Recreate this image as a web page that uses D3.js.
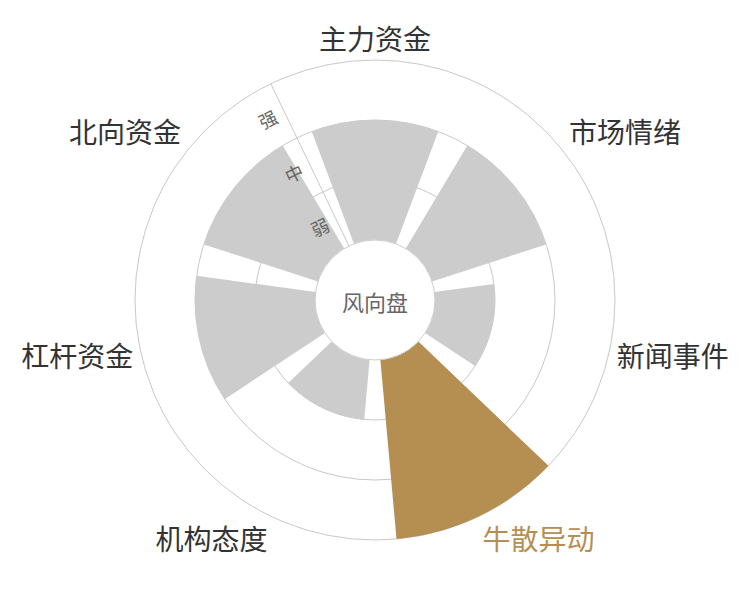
<!DOCTYPE html>
<html>
<head>
<meta charset="utf-8">
<script src="https://cdn.jsdelivr.net/npm/d3@7"></script>
<style>
  body { margin: 0; background: #fff; }
  svg text { font-family: "Noto Sans CJK SC", "Noto Sans", sans-serif; }
</style>
</head>
<body>
<div id="chart"></div>
<script>
// categories, clockwise from the top
var categories = ["主力资金", "市场情绪", "新闻事件", "牛散异动", "机构态度", "杠杆资金", "北向资金"];
// strength: 1 = 弱, 2 = 中, 3 = 强
var values = [2, 2, 1, 3, 1, 2, 2];
var levels = ["弱", "中", "强"];
var highlight = "牛散异动";

var width = 750,
    height = 600,
    cx = 375,
    cy = 300,
    inner = 60,
    outer = 240;

var svg = d3.select("#chart").append("svg")
    .attr("width", width)
    .attr("height", height);

var g = svg.append("g")
    .attr("transform", "translate(" + cx + "," + cy + ")");

var step = 2 * Math.PI / categories.length;

var angle = d3.scaleBand()
    .domain(categories)
    .range([-step / 2, 2 * Math.PI - step / 2])
    .paddingInner(0.2)
    .paddingOuter(0.1);

var radius = d3.scaleLinear()
    .domain([0, levels.length])
    .range([inner, outer]);

// grid rings
g.selectAll("circle.grid")
    .data(d3.range(1, levels.length + 1))
    .enter().append("circle")
    .attr("class", "grid")
    .attr("r", function(d) { return radius(d); })
    .attr("fill", "none")
    .attr("stroke", "#c8c8c8")
    .attr("stroke-width", 1);

// bars
var arc = d3.arc()
    .innerRadius(inner)
    .outerRadius(function(d) { return radius(d.value); })
    .startAngle(function(d) { return angle(d.name); })
    .endAngle(function(d) { return angle(d.name) + angle.bandwidth(); });

var rows = categories.map(function(c, i) { return {name: c, value: values[i]}; });

g.selectAll("path.bar")
    .data(rows)
    .enter().append("path")
    .attr("class", "bar")
    .attr("d", arc)
    .attr("fill", function(d) { return d.name == highlight ? "#b58f52" : "#cccccc"; });

// radius axis along the start boundary
var axisAngle = -step / 2;
var ux = Math.sin(axisAngle), uy = -Math.cos(axisAngle);
g.append("line")
    .attr("x1", ux * inner).attr("y1", uy * inner)
    .attr("x2", ux * outer).attr("y2", uy * outer)
    .attr("stroke", "#c8c8c8")
    .attr("stroke-width", 1);

g.selectAll("text.level")
    .data(levels)
    .enter().append("text")
    .attr("class", "level")
    .attr("transform", function(d, i) {
        var r = radius(i + 0.5);
        var x = ux * r + uy * 18, y = uy * r - ux * 18;
        return "translate(" + x + "," + y + ") rotate(" + (axisAngle * 180 / Math.PI) + ")";
    })
    .attr("text-anchor", "middle")
    .attr("dominant-baseline", "central")
    .attr("font-size", 18)
    .attr("fill", "#666666")
    .text(function(d) { return d; });

// inner disc
g.append("circle")
    .attr("r", inner)
    .attr("fill", "#ffffff")
    .attr("stroke", "#cccccc")
    .attr("stroke-width", 1);

g.append("text")
    .attr("x", 0)
    .attr("y", 1)
    .attr("text-anchor", "middle")
    .attr("dominant-baseline", "central")
    .attr("font-size", 22)
    .attr("fill", "#666666")
    .text("风向盘");

// category labels
var labelR = outer + 8;
g.selectAll("text.cat")
    .data(rows)
    .enter().append("text")
    .attr("class", "cat")
    .each(function(d) {
        var a = angle(d.name) + angle.bandwidth() / 2;
        var s = Math.sin(a), c = -Math.cos(a);
        var x = s * labelR, y = c * labelR;
        var anchor = Math.abs(s) < 0.1 ? "middle" : (s > 0 ? "start" : "end");
        if (Math.abs(c) < 0.3) { /* middle */ }
        else if (c < 0) y -= 14;
        else y += 15;
        d3.select(this)
            .attr("x", x)
            .attr("y", y)
            .attr("text-anchor", anchor);
    })
    .attr("dominant-baseline", "central")
    .attr("font-size", 28)
    .attr("fill", function(d) { return d.name == highlight ? "#b58f52" : "#333333"; })
    .text(function(d) { return d.name; });
</script>
</body>
</html>
